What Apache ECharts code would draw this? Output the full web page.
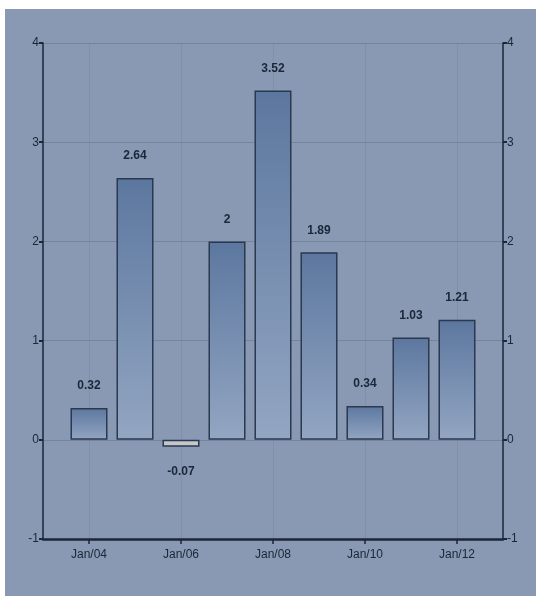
<!DOCTYPE html>
<html>
<head>
<meta charset="utf-8">
<script src="https://cdn.jsdelivr.net/npm/echarts@6/dist/echarts.min.js"></script>
<style>
  html, body { margin: 0; padding: 0; background: #ffffff; }
  #chart { position: absolute; left: 5px; top: 9px; width: 531px; height: 587px; background: #8999b3; }
</style>
</head>
<body>
<div id="chart"></div>
<script>
// categories: one slot per year, first and last stay empty
var years = ['03', '04', '05', '06', '07', '08', '09', '10', '11', '12', '13'];
var values = ['-', 0.32, 2.64, -0.07, 2, 3.52, 1.89, 0.34, 1.03, 1.21, '-'];
var yTicks = [-1, 0, 1, 2, 3, 4];

var dark = '#1b2636';
var font = '"Liberation Sans", Arial, sans-serif';

var chart = echarts.init(document.getElementById('chart'));

// bars: gradient fill, the negative one is pale grey
var barData = values.map(function (v) {
  if (v === '-') return '-';
  if (v < 0) {
    return {
      value: v,
      itemStyle: { color: '#c4c9c7' },
      label: { position: 'bottom', distance: 19 }
    };
  }
  return v;
});

function isLabelled(index) {
  return index % 2 === 1;
}

var yAxisBase = {
  type: 'value',
  min: yTicks[0],
  max: yTicks[yTicks.length - 1],
  interval: 1,
  axisLine: { show: true, lineStyle: { color: dark, width: 1.5 } },
  axisTick: { show: true, length: 4, lineStyle: { color: dark, width: 2 } },
  axisLabel: { color: dark, fontFamily: font, fontSize: 12, margin: 4 }
};

var option = {
  animation: false,
  grid: { left: 38, right: 33, top: 34, bottom: 57 },
  xAxis: {
    type: 'category',
    data: years,
    boundaryGap: false,
    axisLine: { show: true, onZero: false, lineStyle: { color: dark, width: 2.5 } },
    axisTick: { show: true, interval: isLabelled, length: 5, lineStyle: { color: dark, width: 1.5 } },
    axisLabel: {
      interval: isLabelled,
      color: dark,
      fontFamily: font,
      fontSize: 12,
      margin: 10,
      formatter: function (v) { return 'Jan/' + v; }
    },
    splitLine: { show: true, interval: isLabelled, lineStyle: { color: 'rgba(95,110,135,0.2)', width: 1 } }
  },
  yAxis: [
    Object.assign({}, yAxisBase, {
      position: 'left',
      splitLine: { show: true, lineStyle: { color: 'rgba(85,100,128,0.4)', width: 1 } }
    }),
    Object.assign({}, yAxisBase, {
      position: 'right',
      splitLine: { show: false }
    })
  ],
  series: [{
    type: 'bar',
    data: barData,
    barWidth: 37,
    itemStyle: {
      color: {
        type: 'linear', x: 0, y: 0, x2: 0, y2: 1,
        colorStops: [
          { offset: 0, color: '#5c779f' },
          { offset: 1, color: '#93a6c2' }
        ],
        global: false
      },
      borderColor: '#2a3850',
      borderWidth: 1.5
    },
    label: {
      show: true,
      position: 'top',
      distance: 16,
      color: dark,
      fontFamily: font,
      fontSize: 12,
      fontWeight: 'bold'
    }
  }]
};

chart.setOption(option);
</script>
</body>
</html>
